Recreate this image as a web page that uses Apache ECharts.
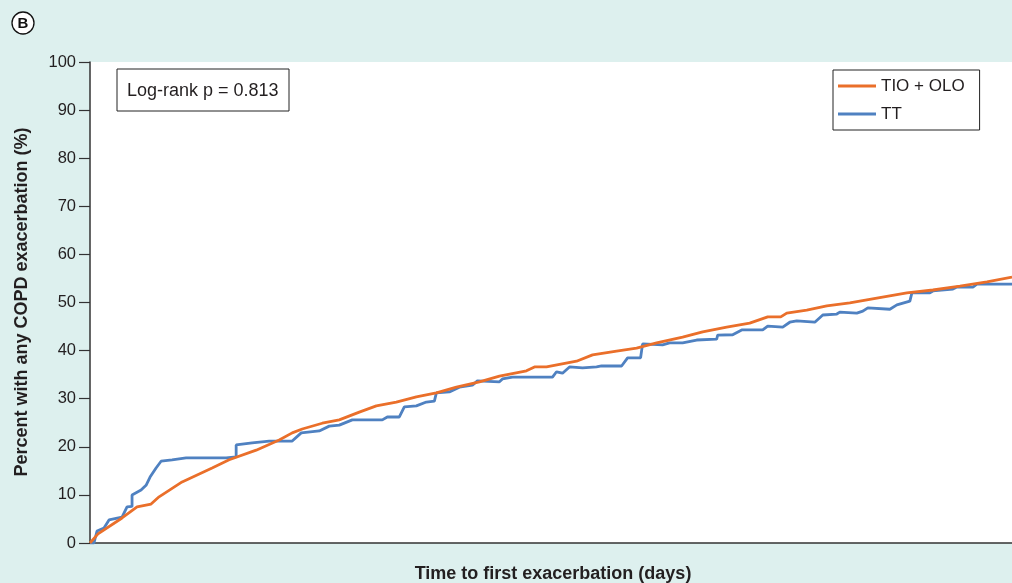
<!DOCTYPE html>
<html>
<head>
<meta charset="utf-8">
<script src="https://cdn.jsdelivr.net/npm/echarts@6/dist/echarts.min.js"></script>
<style>
html,body{margin:0;padding:0;background:#ddf0ee;}
#c{width:1012px;height:583px;}
</style>
</head>
<body>
<div id="c"></div>
<script>
// Time to first exacerbation (days) and cumulative percent with any COPD exacerbation
const ttDays = [0,1.6,2.8,5.6,7.6,12.8,14.8,16.8,16.8,20.4,22.4,24,26.4,28.4,32.8,38.4,54.4,58.4,58.4,64.8,71.6,80.8,84.4,91.6,95.6,99.6,104.8,116.8,118.8,123.6,125.6,130.4,134.4,137.6,138.4,143.6,147.6,152.8,154.8,163.6,164.8,168.8,184.8,186.4,188.8,191.6,196.8,202.4,204.4,212.4,214.8,220,220.8,228.8,231.6,236.8,242.4,250.4,250.8,256.8,260.4,268.8,270.8,276.8,279.6,282.4,289.6,292.8,298.4,299.6,306.4,308.8,310.8,319.6,322.4,327.6,328.4,335.6,336.8,344.8,346.4,352.8,354.4,368.4];
const ttPct = [0,0,2.5,3.1,4.8,5.4,7.5,7.6,10,11,12,13.7,15.6,17,17.3,17.7,17.7,17.9,20.4,20.8,21.2,21.2,22.9,23.3,24.3,24.5,25.6,25.6,26.2,26.2,28.3,28.5,29.3,29.5,31.2,31.4,32.4,32.8,33.7,33.5,34.1,34.5,34.5,35.6,35.3,36.6,36.4,36.6,36.8,36.8,38.5,38.5,41.4,41.2,41.6,41.6,42.2,42.4,43.2,43.3,44.3,44.3,45.1,44.9,45.9,46.2,45.9,47.4,47.6,48,47.8,48.2,48.9,48.6,49.5,50.3,52,52,52.4,52.8,53.2,53.2,53.8,53.8];

const tioDays = [0,3.2,12.8,18.8,24.4,27.6,36.8,48.8,55.6,66.4,75.6,80.8,84.8,92.8,99.6,107.6,114.4,122.4,130.4,138.4,146.4,155.6,163.6,174.4,177.6,182.4,194.4,200.8,210.4,218.4,226.4,236.8,244.8,254.4,263.6,270.8,276,278.4,286.4,294.4,303.6,314.4,326.4,336.8,347.6,358.4,368.4];
const tioPct = [0,1.9,5.2,7.5,8.1,9.6,12.7,15.6,17.3,19.3,21.4,22.9,23.7,24.9,25.6,27.2,28.5,29.3,30.4,31.2,32.4,33.5,34.7,35.8,36.6,36.6,37.8,39.1,39.9,40.5,41.6,42.8,43.9,44.9,45.7,47,47,47.8,48.4,49.3,49.9,50.9,52,52.6,53.4,54.3,55.3];

const yTicks = [0,10,20,30,40,50,60,70,80,90,100];
const seriesNames = ['TIO + OLO', 'TT'];
const pValueText = 'Log-rank p = 0.813';

const zip = (a, b) => a.map((v, i) => [v, b[i]]);

const chart = echarts.init(document.getElementById('c'));
const font = '"Liberation Sans", Arial, Helvetica, sans-serif';
chart.setOption({
  backgroundColor: '#ddf0ee',
  animation: false,
  textStyle: { fontFamily: font },
  grid: { left: 90, top: 62, right: 0, bottom: 40, show: true, backgroundColor: '#ffffff', borderWidth: 0 },
  xAxis: {
    type: 'value', min: 0, max: 368.4,
    axisLine: { show: true, onZero: false, lineStyle: { color: '#333', width: 1.5 } },
    axisTick: { show: false }, axisLabel: { show: false }, splitLine: { show: false }
  },
  yAxis: {
    type: 'value', min: yTicks[0], max: yTicks[yTicks.length - 1], interval: 10,
    axisLine: { show: true, lineStyle: { color: '#333', width: 1.5 } },
    axisTick: { show: true, length: 11, lineStyle: { color: '#333', width: 1.2 } },
    axisLabel: { color: '#231f20', fontSize: 16.5, margin: 14, fontFamily: font },
    splitLine: { show: false }
  },
  legend: {
    data: seriesNames,
    orient: 'vertical', left: 833, top: 70,
    padding: [6, 15, 6, 5], itemGap: 8,
    itemWidth: 38, itemHeight: 3, icon: 'rect',
    borderColor: '#222', borderWidth: 1, backgroundColor: '#fff',
    textStyle: { fontSize: 17, color: '#231f20', lineHeight: 20, fontFamily: font }
  },
  series: [
    { name: seriesNames[1], type: 'line', data: zip(ttDays, ttPct), showSymbol: false, color: '#4f81c1',
      lineStyle: { width: 2.8, color: '#4f81c1' }, z: 2 },
    { name: seriesNames[0], type: 'line', data: zip(tioDays, tioPct), showSymbol: false, color: '#ea6f2a',
      lineStyle: { width: 2.8, color: '#ea6f2a' }, z: 3 }
  ],
  graphic: [
    { type: 'circle', shape: { cx: 23, cy: 23, r: 11 }, style: { fill: '#ffffff', stroke: '#111', lineWidth: 1.3 } },
    { type: 'text', x: 23, y: 23.5, style: { text: 'B', fill: '#111', font: 'bold 15px ' + font, align: 'center', verticalAlign: 'middle' } },
    { type: 'rect', shape: { x: 117, y: 69, width: 172, height: 42 }, style: { fill: '#fff', stroke: '#222', lineWidth: 1 }, z: 10 },
    { type: 'text', x: 127, y: 91, z: 11, style: { text: pValueText, fill: '#231f20', font: '18px ' + font, align: 'left', verticalAlign: 'middle' } },
    { type: 'text', x: 22, y: 302, rotation: Math.PI / 2, style: { text: 'Percent with any COPD exacerbation (%)', fill: '#231f20', font: 'bold 18px ' + font, align: 'center', verticalAlign: 'middle' } },
    { type: 'text', x: 553, y: 574, style: { text: 'Time to first exacerbation (days)', fill: '#231f20', font: 'bold 18px ' + font, align: 'center', verticalAlign: 'middle' } }
  ]
});
</script>
</body>
</html>
